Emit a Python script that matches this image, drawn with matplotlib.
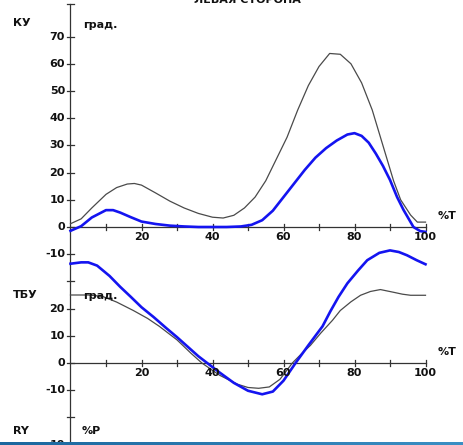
import matplotlib.pyplot as plt
import numpy as np

# КУ, град. (тонкая серая и синяя кривые)
ky_t_grey = [0, 3, 6, 10, 13, 16, 18, 20, 24, 28, 32, 36, 40, 43, 46, 49, 52, 55, 58,
             61, 64, 67, 70, 73, 76, 79, 82, 85, 88, 91, 93, 95.8, 97.7, 100]
ky_grey = [1.2, 3, 7, 12, 14.5, 15.8, 16, 15.4, 12.5, 9.5, 7, 5, 3.6, 3.3, 4.3, 7, 11, 17, 25,
           33, 43, 52, 59, 63.8, 63.5, 60, 53, 43, 30, 17, 10, 4.4, 1.8, 1.8]
ky_t_blue = [0, 3, 6, 10, 12, 14, 17, 20, 24, 28, 32, 36, 40, 44, 48, 51, 54, 57, 60, 63,
             66, 69, 72, 75, 78, 80, 82, 84, 86, 88, 90, 92, 93.8, 96.6, 98.5, 100]
ky_blue = [-1.4, 0.3, 3.5, 6.2, 6.2, 5.3, 3.6, 2, 1.1, 0.5, 0.2, 0, 0, 0, 0.2, 0.8, 2.5, 6, 11, 16,
           21, 25.5, 29, 31.8, 34, 34.5, 33.5, 31, 27, 22.5, 17.3, 11, 6.3, 0, -1.5, -1.8]

# ТБУ, град.
tby_t_grey = [0, 5, 9, 13, 17.7, 21.7, 25, 30, 34, 37, 42, 47, 50, 53, 56, 59, 62.5, 65,
              67.6, 70.5, 73.8, 76, 79, 81.7, 84.5, 87.3, 91, 93.5, 95.8, 100]
tby_grey = [25, 25, 24.5, 22.4, 19.3, 16.4, 13.5, 8.5, 3.5, 0, -4.5, -7.8, -9, -9.3, -8.8, -6, 0, 3.3,
            6.5, 11, 15.7, 19.3, 22.5, 24.9, 26.3, 27, 26, 25.3, 24.9, 24.9]
tby_t_blue = [0, 3, 5, 7.5, 11, 14, 17, 20, 23.4, 27, 30, 33, 36, 38.5, 42, 46, 50, 54, 57, 60,
              63.4, 67, 71, 73.2, 75.5, 78, 81, 83.6, 87, 90, 92.5, 94.8, 97.5, 100]
tby_blue = [36.5, 37, 37, 35.8, 32, 28, 24.3, 20.5, 16.9, 12.8, 9.5, 6, 2.5, 0, -3.5, -7.3, -10.2, -11.5, -10.5, -6.5,
            0, 6.5, 13.5, 19, 24.3, 29.3, 34, 37.8, 40.5, 41.4, 40.8, 39.6, 37.8, 36.3]

# подписи осей
ky_yticks = [70, 60, 50, 40, 30, 20, 10, 0, -10]
tby_yticks = [20, 10, 0, -10]
ry_yticks = [10]
xtick_minor = [10, 20, 30, 40, 50, 60, 70, 80, 90, 100]
xtick_labels = [20, 40, 60, 80, 100]

# смещения нулей графиков по общей вертикальной оси
off_ky, off_tby, off_ry = 0, -50, -90

X0, SX = 70.5, 3.55   # пикселей на %T
Y0, SY = 227, 2.72    # пикселей на градус
W, H = 463, 445


def px(xp, yp):
    return (xp - X0) / SX, (Y0 - yp) / SY


fig = plt.figure(figsize=(W / 100, H / 100), dpi=100)
ax = fig.add_axes([0, 0, 1, 1])
ax.set_xlim(-X0 / SX, (W - X0) / SX)
ax.set_ylim(-(H - Y0) / SY, Y0 / SY)
ax.axis('off')

axc = '#333333'
fnt = dict(fontsize=8, fontweight='bold', color='#111111', family='DejaVu Sans')

# вертикальная ось
ax.plot([0, 0], [82, -84], color=axc, lw=0.9)
ax.plot([-1.1, 1.1], [82, 82], color=axc, lw=0.9)

# деления и подписи по вертикали
xl = px(65, 0)[0]
for off, labels, extra in [(off_ky, ky_yticks, [-20]), (off_tby, tby_yticks, [-20]), (off_ry, ry_yticks, [])]:
    for v in labels + extra:
        ax.plot([-1.0, 1.0], [v + off, v + off], color=axc, lw=0.9)
    for v in labels:
        ax.text(xl, v + off, str(v), ha='right', va='center', **fnt)

# горизонтальные оси
for off in [off_ky, off_tby]:
    ax.plot([0, 100], [off, off], color=axc, lw=0.9)
    for t in xtick_minor:
        ax.plot([t, t], [off - 1.1, off + 1.1], color=axc, lw=0.9)
    for t in xtick_labels:
        ax.text(t, off - 3.7, str(t), ha='center', va='center', **fnt)
    ax.text(px(438, 0)[0], off + 4.0, '%T', ha='left', va='center', **fnt)

# кривые
ax.plot(ky_t_grey, np.array(ky_grey) + off_ky, color='#4a4a4a', lw=0.9)
ax.plot(ky_t_blue, np.array(ky_blue) + off_ky, color='#1414f0', lw=1.9)
ax.plot(tby_t_grey, np.array(tby_grey) + off_tby, color='#4a4a4a', lw=0.9)
ax.plot(tby_t_blue, np.array(tby_blue) + off_tby, color='#1414f0', lw=1.9)

# названия
ax.text(*px(13, 23), 'КУ', ha='left', va='center', **fnt)
ax.text(*px(83, 25), 'град.', ha='left', va='center', **fnt)
ax.text(*px(13, 295), 'ТБУ', ha='left', va='center', **fnt)
ax.text(*px(83, 296), 'град.', ha='left', va='center', **fnt)
ax.text(*px(13, 431), 'RY', ha='left', va='center', **fnt)
ax.text(*px(82, 431), '%P', ha='left', va='center', **fnt)
ax.text(*px(247, 3), 'ЛЕВАЯ СТОРОНА', ha='center', va='baseline', **fnt)

# полоса внизу
grad = np.linspace(0, 1, 256).reshape(1, -1)
ax.imshow(grad, cmap=plt.matplotlib.colors.LinearSegmentedColormap.from_list('b', ['#1b679e', '#3b8fc4']),
          extent=(-X0 / SX, (W - X0) / SX, -(H - Y0) / SY, -(442.5 - Y0) / SY), aspect='auto', zorder=5)

fig.savefig('out.png', dpi=100)
